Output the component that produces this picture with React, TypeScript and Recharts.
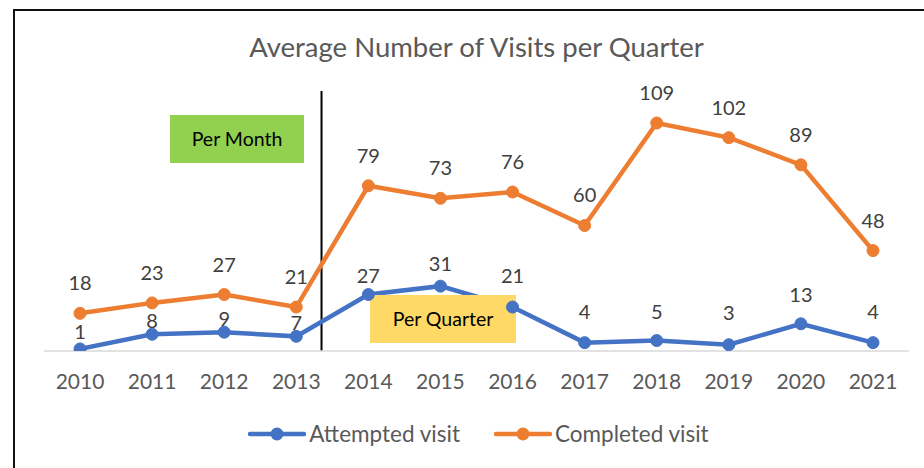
import React from 'react';
import {
  LineChart,
  Line,
  XAxis,
  YAxis,
  Legend,
  ReferenceArea,
  ReferenceLine,
  LabelList,
} from 'recharts';

// ---- data ----
const years = ['2010', '2011', '2012', '2013', '2014', '2015', '2016', '2017', '2018', '2019', '2020', '2021'];
const attempted = [1, 8, 9, 7, 27, 31, 21, 4, 5, 3, 13, 4];
const completed = [18, 23, 27, 21, 79, 73, 76, 60, 109, 102, 89, 48];
const titleText = 'Average Number of Visits per Quarter';
const attemptedName = 'Attempted visit';
const completedName = 'Completed visit';
const monthNote = 'Per Month';
const quarterNote = 'Per Quarter';

const data = years.map((year, i) => ({
  year,
  idx: i,
  attempted: attempted[i],
  completed: completed[i],
}));

// ---- styles ----
const FONT = 'Lato, "Open Sans", sans-serif';
const BLUE = '#4472C4';
const ORANGE = '#ED7D31';
const TEXT = '#595959';
const LABEL = '#404040';
const blueGap = [18, 14, 14, 14, 20, 23, 32, 32, 30, 33, 30, 32];
const orangeGap = 31;

const makeLabel = (gapFor: (i: number) => number) => (props: any) => {
  const vb = props.viewBox || {};
  const x = props.x ?? vb.x;
  const y = props.y ?? vb.y;
  if (x == null || y == null) return null;
  return (
    <text
      x={x}
      y={y - gapFor(props.index)}
      textAnchor="middle"
      dominantBaseline="central"
      fill={LABEL}
      fontSize={20}
      fontFamily={FONT}
    >
      {props.value}
    </text>
  );
};

const LegendContent = (props: any) => {
  const payload = props.payload || [];
  return (
    <div style={{ display: 'flex', justifyContent: 'center', gap: 34, fontFamily: FONT }}>
      {payload.map((p: any) => (
        <div key={p.value} style={{ display: 'flex', alignItems: 'center' }}>
          <svg width={58} height={16}>
            <line x1={2} x2={56} y1={8} y2={8} stroke={p.color} strokeWidth={4.5} strokeLinecap="round" />
            <circle cx={29} cy={8} r={6.5} fill={p.color} />
          </svg>
          <span style={{ marginLeft: 3, fontSize: 22.5, color: TEXT, lineHeight: '28px' }}>{p.value}</span>
        </div>
      ))}
    </div>
  );
};

export default function App() {
  return (
    <div
      style={{
        position: 'fixed',
        left: 0,
        top: 0,
        width: 924,
        height: 468,
        overflow: 'hidden',
        background: '#fff',
        fontFamily: FONT,
      }}
    >
      <div
        style={{
          position: 'absolute',
          left: 13,
          top: 9,
          width: 1000,
          height: 600,
          borderTop: '2px solid #111',
          borderLeft: '2px solid #111',
        }}
      />
      <div
        style={{
          position: 'absolute',
          left: 0,
          top: 31,
          width: 953,
          textAlign: 'center',
          fontSize: 27.5,
          lineHeight: '32px',
          color: TEXT,
        }}
      >
        {titleText}
      </div>
      <div style={{ position: 'absolute', left: 0, top: 0 }}>
        <LineChart
          width={924}
          height={468}
          data={data}
          margin={{ top: 91, right: 15, bottom: 87, left: 44 }}
        >
          <XAxis
            dataKey="year"
            height={30}
            padding={{ left: 36, right: 36 }}
            axisLine={{ stroke: '#D9D9D9', strokeWidth: 1.5 }}
            tickLine={false}
            tickSize={0}
            tickMargin={23}
            tick={{ fill: TEXT, fontSize: 21, fontFamily: FONT }}
            interval={0}
          />
          <XAxis xAxisId="n" dataKey="idx" type="number" domain={[-0.5, 11.5]} hide allowDataOverflow />
          <YAxis hide domain={[0, 124.3]} allowDataOverflow />
          <ReferenceArea
            xAxisId="n"
            x1={1.248}
            x2={3.107}
            y1={89.9}
            y2={112.8}
            fill="#92D050"
            fillOpacity={1}
            stroke="none"
            ifOverflow="visible"
            label={{ value: monthNote, position: 'center', fill: '#000', fontSize: 19.5, fontFamily: FONT }}
          />
          <ReferenceLine xAxisId="n" x={3.35} stroke="#000" strokeWidth={2} ifOverflow="visible" />
          <Line
            dataKey="attempted"
            name={attemptedName}
            stroke={BLUE}
            strokeWidth={4.5}
            dot={{ r: 6, fill: BLUE, stroke: BLUE, strokeWidth: 1 }}
            isAnimationActive={false}
          >
            <LabelList dataKey="attempted" content={makeLabel((i) => blueGap[i] ?? 31)} />
          </Line>
          <Line
            dataKey="completed"
            name={completedName}
            stroke={ORANGE}
            strokeWidth={4.5}
            dot={{ r: 6, fill: ORANGE, stroke: ORANGE, strokeWidth: 1 }}
            isAnimationActive={false}
          >
            <LabelList dataKey="completed" content={makeLabel(() => orangeGap)} />
          </Line>
          <ReferenceArea
            xAxisId="n"
            x1={4.023}
            x2={6.048}
            y1={3.8}
            y2={26.8}
            fill="#FFD966"
            fillOpacity={1}
            stroke="none"
            ifOverflow="visible"
            zIndex={600}
            label={{ value: quarterNote, position: 'center', fill: '#000', fontSize: 19.5, fontFamily: FONT }}
          />
          <Legend
            layout="horizontal"
            verticalAlign="middle"
            align="center"
            content={<LegendContent />}
            wrapperStyle={{ top: 420, left: 0, width: 957 }}
          />
        </LineChart>
      </div>
    </div>
  );
}
